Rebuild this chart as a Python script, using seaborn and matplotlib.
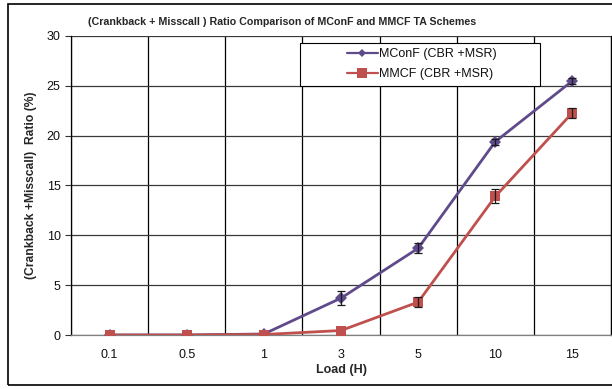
import numpy as np
import pandas as pd
import matplotlib
matplotlib.use("Agg")
import matplotlib.pyplot as plt
from matplotlib.patches import Rectangle
from matplotlib.lines import Line2D
import seaborn as sns

# Load values on the x axis (treated as categories)
loads = ["0.1", "0.5", "1", "3", "5", "10", "15"]

# (Crankback + Misscall) ratio in percent, with error half-widths
mconf = [0.0, 0.0, 0.1, 3.7, 8.7, 19.4, 25.5]
mconf_err = [0.0, 0.0, 0.0, 0.7, 0.5, 0.3, 0.3]
mmcf = [0.0, 0.0, 0.05, 0.45, 3.3, 13.9, 22.3]
mmcf_err = [0.0, 0.0, 0.0, 0.0, 0.5, 0.7, 0.5]

series_names = ["MConF (CBR +MSR)", "MMCF (CBR +MSR)"]
colors = ["#5F4A8B", "#C0504D"]
markers = ["D", "s"]

sns.set_theme(style="white")
plt.rcParams["font.family"] = ["Liberation Sans", "DejaVu Sans"]

pos = np.arange(len(loads))
df = pd.DataFrame({
    "pos": np.concatenate([pos, pos]),
    "ratio": mconf + mmcf,
    "err": mconf_err + mmcf_err,
    "series": [series_names[0]] * len(loads) + [series_names[1]] * len(loads),
})

fig = plt.figure(figsize=(6.12, 3.89), dpi=100)
ax = fig.add_axes([71 / 612, 1 - 335 / 389, 540 / 612, 299 / 389])

sns.lineplot(data=df, x="pos", y="ratio", hue="series", style="series",
             palette=dict(zip(series_names, colors)),
             markers=dict(zip(series_names, markers)),
             dashes=False, linewidth=2.0, markeredgewidth=0,
             ax=ax, legend=False, zorder=3)
# marker sizes per series
for line in ax.get_lines():
    if line.get_marker() == "D":
        line.set_markersize(6)
    elif line.get_marker() == "s":
        line.set_markersize(7.5)

# error bars drawn over the markers (only where a spread was measured)
for name in series_names:
    sub = df[(df["series"] == name) & (df["err"] > 0)]
    ax.errorbar(sub["pos"], sub["ratio"], yerr=sub["err"], fmt="none",
                ecolor="#1a1a1a", elinewidth=0.9, capsize=3, capthick=0.9, zorder=4)

ax.set_xlim(-0.5, len(loads) - 0.5)
ax.set_ylim(0, 30)
ax.set_yticks(np.arange(0, 31, 5))
ax.set_xticks(pos)
ax.set_xticklabels(loads)
ax.set_xticks(np.arange(-0.5, len(loads)), minor=True)

ax.tick_params(axis="x", which="major", length=0, labelsize=9, pad=10, colors="#111111")
ax.tick_params(axis="x", which="minor", length=4, width=0.8, color="#333333", direction="out")
ax.tick_params(axis="y", which="major", length=4, width=0.8, color="#333333",
               direction="out", labelsize=9, left=True, labelcolor="#111111")

ax.grid(True, axis="y", which="major", color="#3a3a3a", linewidth=0.9)
ax.grid(True, axis="x", which="minor", color="#000000", linewidth=0.9)
ax.grid(False, axis="x", which="major")
ax.set_axisbelow(True)

ax.spines["top"].set_visible(False)
ax.spines["right"].set_color("#000000")
ax.spines["right"].set_linewidth(0.9)
ax.spines["left"].set_color("#000000")
ax.spines["left"].set_linewidth(0.9)
ax.spines["bottom"].set_color("#808080")
ax.spines["bottom"].set_linewidth(0.9)

ax.set_xlabel("Load (H)", fontsize=9, fontweight="bold", labelpad=2)
ax.set_ylabel("(Crankback +Misscall)  Ratio (%)", fontsize=8.7, fontweight="bold", labelpad=7)

fig.text(282 / 612, 1 - 22 / 389,
         "(Crankback + Misscall ) Ratio Comparison of MConF and MMCF TA Schemes",
         ha="center", va="center", fontsize=7.7, fontweight="bold")

# legend box frame, with the entries centred inside it
box_x0, box_x1 = (300 - 71) / 540, (540 - 71) / 540
box_y0, box_y1 = (335 - 85.7) / 299, (335 - 43) / 299
ax.add_patch(Rectangle((box_x0, box_y0), box_x1 - box_x0, box_y1 - box_y0,
                       transform=ax.transAxes, facecolor="white",
                       edgecolor="#000000", linewidth=0.8, zorder=5))

handles = [Line2D([], [], color=c, marker=m, markersize=ms, linewidth=1.6, markeredgewidth=0)
           for c, m, ms in zip(colors, markers, [4.5, 6.5])]
leg = ax.legend(handles, series_names, loc="center",
                bbox_to_anchor=((box_x0 + box_x1) / 2 + 0.003, (box_y0 + box_y1) / 2),
                fontsize=9, frameon=False, borderaxespad=0, handlelength=2.5,
                handletextpad=0.1, labelspacing=0.65, borderpad=0)
leg.set_zorder(6)
for t in leg.get_texts():
    t.set_color("#111111")

# outer chart frame
fig.patches.append(Rectangle((8 / 612, 1 - 385 / 389), 640 / 612, 381 / 389,
                             transform=fig.transFigure, fill=False,
                             edgecolor="#000000", linewidth=1.2))

fig.savefig("out.png", dpi=100)
